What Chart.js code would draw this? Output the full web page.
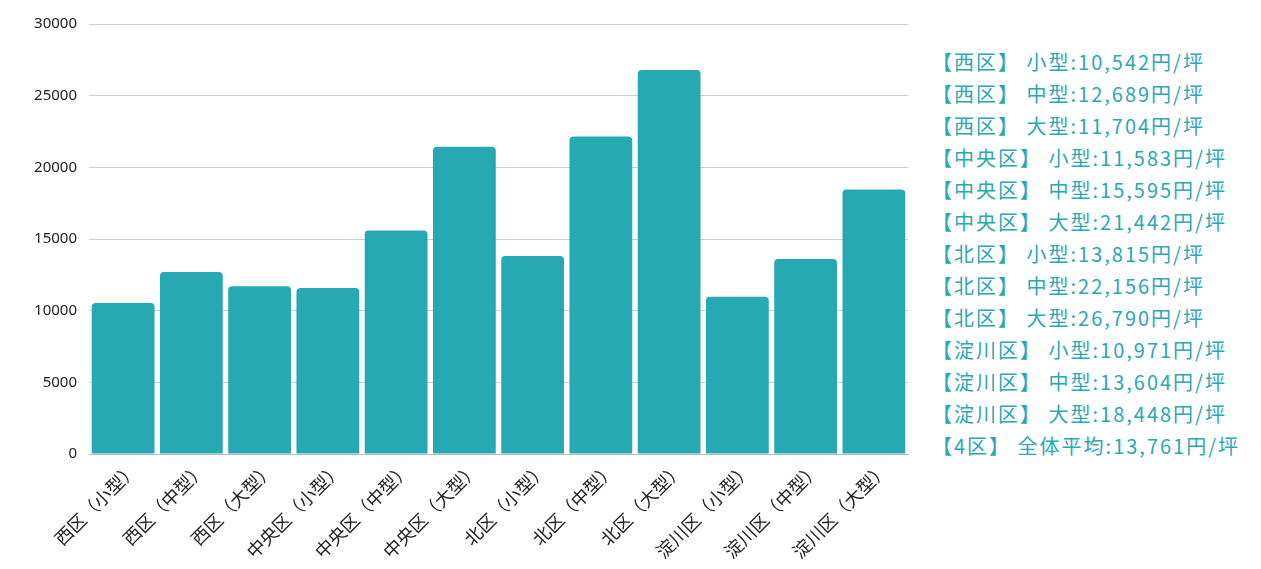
<!DOCTYPE html>
<html>
<head>
<meta charset="utf-8">
<script src="https://cdn.jsdelivr.net/npm/chart.js@4"></script>
<style>
  body { margin: 0; background: #fff; }
  #wrap { position: relative; width: 1261px; height: 569px; }
  #box { position: absolute; left: 0; top: 0; width: 915px; height: 569px; }
  #notes { position: absolute; left: 932px; top: 46px; color: #2ba8b1;
    font-family: "Noto Sans CJK JP", sans-serif; font-size: 20px; line-height: 32px;
    letter-spacing: 2px; white-space: nowrap; }
</style>
</head>
<body>
<div id="wrap">
  <div id="box"><canvas id="priceChart"></canvas></div>
  <div id="notes"></div>
</div>
<script>
// categories and values (円/坪)
const labels = ['西区（小型）', '西区（中型）', '西区（大型）', '中央区（小型）', '中央区（中型）', '中央区（大型）',
  '北区（小型）', '北区（中型）', '北区（大型）', '淀川区（小型）', '淀川区（中型）', '淀川区（大型）'];
const prices = [10542, 12689, 11704, 11583, 15595, 21442, 13815, 22156, 26790, 10971, 13604, 18448];
const noteLines = [
  '【西区】 小型:10,542円/坪',
  '【西区】 中型:12,689円/坪',
  '【西区】 大型:11,704円/坪',
  '【中央区】 小型:11,583円/坪',
  '【中央区】 中型:15,595円/坪',
  '【中央区】 大型:21,442円/坪',
  '【北区】 小型:13,815円/坪',
  '【北区】 中型:22,156円/坪',
  '【北区】 大型:26,790円/坪',
  '【淀川区】 小型:10,971円/坪',
  '【淀川区】 中型:13,604円/坪',
  '【淀川区】 大型:18,448円/坪',
  '【4区】 全体平均:13,761円/坪'
];

document.getElementById('notes').innerHTML = noteLines.map(t => '<div>' + t + '</div>').join('');

const ctx = document.getElementById('priceChart').getContext('2d');
new Chart(ctx, {
  type: 'bar',
  data: {
    labels: labels,
    datasets: [{
      data: prices,
      backgroundColor: '#27a9b4',
      borderRadius: { topLeft: 4, topRight: 4 },
      borderSkipped: 'bottom',
      barPercentage: 0.92,
      categoryPercentage: 1
    }]
  },
  options: {
    responsive: true,
    maintainAspectRatio: false,
    animation: false,
    layout: { padding: { top: 24, right: 7, left: 0, bottom: 0 } },
    plugins: { legend: { display: false }, tooltip: { enabled: false } },
    scales: {
      x: {
        grid: { display: false, drawTicks: false },
        border: { color: '#bbb' },
        ticks: {
          color: '#222',
          font: { family: '"Noto Sans CJK SC", sans-serif', size: 18 },
          maxRotation: 45,
          minRotation: 45,
          autoSkip: false,
          padding: 4,
          labelOffset: 11
        },
        afterFit: s => { s.height = 115; }
      },
      y: {
        min: 0,
        max: 30000,
        ticks: {
          stepSize: 5000,
          color: '#222',
          padding: 12,
          font: { family: '"Noto Sans", sans-serif', size: 15 },
          callback: v => String(v)
        },
        grid: { color: '#cfcfcf', drawTicks: false },
        border: { display: false },
        afterFit: s => { s.width = 89; }
      }
    }
  }
});
</script>
</body>
</html>
